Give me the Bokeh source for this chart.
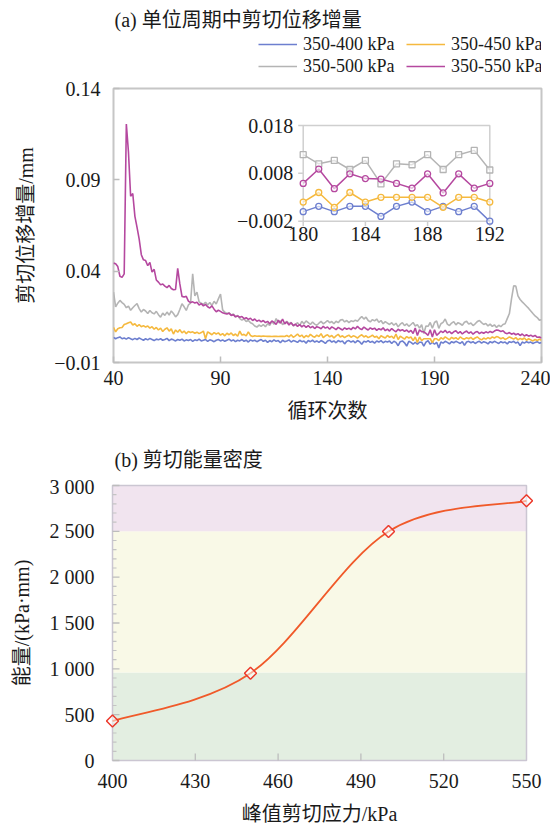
from bokeh.plotting import figure
from bokeh.models import Range1d, Label, Legend, LegendItem, FixedTicker
from bokeh.layouts import column
from bokeh.embed import file_html
from bokeh.resources import INLINE
from bokeh.core.properties import value

# ---------------- data: panel (a) ----------------
cycles = list(range(40, 241))

s400 = [
    0.0038, 0.0030, 0.0036, 0.0040, 0.0030, 0.0034, 0.0028, 0.0036, 0.0030, 0.0025,
    0.0032, 0.0026, 0.0034, 0.0028, 0.0022, 0.0030, 0.0024, 0.0032, 0.0026, 0.0020,
    0.0028, 0.0024, 0.0030, 0.0022, 0.0026, 0.0032, 0.0020, 0.0028, 0.0024, 0.0018,
    0.0026, 0.0022, 0.0028, 0.0018, 0.0024, 0.0020, 0.0026, 0.0016, 0.0024, 0.0020,
    0.0028, 0.0018, 0.0022, 0.0026, 0.0016, 0.0024, 0.0020, 0.0014, 0.0022, 0.0026,
    0.0018, 0.0024, 0.0016, 0.0022, 0.0028, 0.0018, 0.0024, 0.0014, 0.0022, 0.0018,
    0.0026, 0.0016, 0.0022, 0.0012, 0.0024, 0.0018, 0.0022, 0.0014, 0.0020, 0.0026,
    0.0016, 0.0022, 0.0010, 0.0020, 0.0014, 0.0024, 0.0016, 0.0020, 0.0008, 0.0022,
    0.0014, 0.0018, 0.0024, 0.0012, 0.0020, 0.0016, 0.0010, 0.0022, 0.0014, 0.0018,
    0.0006, 0.0020, 0.0014, 0.0022, 0.0012, 0.0018, 0.0010, 0.0020, 0.0014, 0.0004,
    0.0018, 0.0022, 0.0012, 0.0018, 0.0008, 0.0020, 0.0014, 0.0018, 0.0002, 0.0016,
    0.0020, 0.0012, 0.0018, 0.0008, 0.0020, 0.0014, 0.0000, 0.0016, 0.0012, 0.0020,
    0.0010, 0.0016, 0.0006, 0.0018, 0.0012, 0.0020, 0.0008, 0.0016, 0.0012, 0.0018,
    0.0004, 0.0016, 0.0010, -0.0008, 0.0014, 0.0018, 0.0008, -0.0010, 0.0016, 0.0010,
    0.0000, 0.0011, 0.0000, 0.0011, 0.0011, -0.0010, 0.0011, 0.0020, 0.0000, 0.0011,
    0.0000, 0.0011, -0.0020, 0.0012, 0.0006, 0.0016, 0.0010, 0.0002, 0.0014, 0.0008,
    0.0016, 0.0010, 0.0004, 0.0014, -0.0006, 0.0012, 0.0016, 0.0008, 0.0014, 0.0004,
    0.0012, 0.0016, 0.0006, 0.0014, 0.0010, 0.0002, 0.0014, 0.0008, 0.0016, 0.0010,
    0.0004, 0.0014, 0.0008, 0.0012, 0.0002, 0.0014, 0.0010, 0.0016, 0.0006, 0.0012,
    -0.0008, 0.0012, 0.0006, 0.0014, 0.0008, 0.0012, 0.0004, 0.0010, 0.0014, 0.0006,
    0.0010,
]

s450 = [
    0.0093, 0.0068, 0.0085, 0.0090, 0.0092, 0.0108, 0.0112, 0.0118, 0.0122, 0.0105,
    0.0112, 0.0098, 0.0108, 0.0096, 0.0102, 0.0094, 0.0100, 0.0088, 0.0096, 0.0082,
    0.0092, 0.0078, 0.0088, 0.0070, 0.0082, 0.0090, 0.0072, 0.0084, 0.0056, 0.0078,
    0.0066, 0.0080, 0.0062, 0.0072, 0.0058, 0.0070, 0.0064, 0.0068, 0.0060, 0.0066,
    0.0058, 0.0064, 0.0072, 0.0030, 0.0068, 0.0060, 0.0052, 0.0064, 0.0056, 0.0062,
    0.0050, 0.0058, 0.0046, 0.0060, 0.0052, 0.0062, 0.0048, 0.0056, 0.0044, 0.0072,
    0.0050, 0.0054, 0.0046, 0.0068, 0.0048, 0.0042, 0.0046, 0.0044, 0.0045, 0.0043,
    0.0045, 0.0044, 0.0043, 0.0044, 0.0042, 0.0043, 0.0044, 0.0042, 0.0043, 0.0044,
    0.0042, 0.0048, 0.0040, 0.0052, 0.0038, 0.0046, 0.0056, 0.0042, 0.0050, 0.0036,
    0.0048, 0.0040, 0.0054, 0.0044, 0.0038, 0.0050, 0.0042, 0.0058, 0.0036, 0.0046,
    0.0052, 0.0040, 0.0048, 0.0034, 0.0046, 0.0054, 0.0040, 0.0046, 0.0036, 0.0044,
    0.0050, 0.0038, 0.0046, 0.0042, 0.0034, 0.0044, 0.0052, 0.0040, 0.0046, 0.0036,
    0.0042, 0.0050, 0.0038, 0.0044, 0.0030, 0.0046, 0.0040, 0.0034, 0.0048, 0.0038,
    0.0044, 0.0032, 0.0056, 0.0026, 0.0044, 0.0036, 0.0028, 0.0042, 0.0034, 0.0040,
    0.0020, 0.0040, 0.0009, 0.0040, 0.0020, 0.0030, 0.0030, 0.0030, 0.0030, 0.0009,
    0.0030, 0.0030, 0.0020, 0.0036, 0.0028, 0.0040, 0.0032, 0.0024, 0.0038, 0.0030,
    0.0036, 0.0026, 0.0040, 0.0032, 0.0028, 0.0036, 0.0030, 0.0038, 0.0026, 0.0034,
    0.0040, 0.0030, 0.0024, 0.0034, 0.0028, 0.0036, 0.0030, 0.0040, 0.0034, 0.0042,
    0.0038, 0.0030, 0.0036, 0.0026, 0.0032, 0.0040, 0.0034, 0.0028, 0.0036, 0.0024,
    0.0032, 0.0026, 0.0034, 0.0022, 0.0030, 0.0024, 0.0018, 0.0026, 0.0020, 0.0028,
    0.0022,
]

s500 = [
    0.0285, 0.0205, 0.0225, 0.0240, 0.0228, 0.0218, 0.0200, 0.0208, 0.0186, 0.0200,
    0.0212, 0.0222, 0.0195, 0.0176, 0.0190, 0.0182, 0.0168, 0.0185, 0.0172, 0.0166,
    0.0180, 0.0162, 0.0148, 0.0170, 0.0158, 0.0176, 0.0160, 0.0182, 0.0168, 0.0150,
    0.0162, 0.0190, 0.0222, 0.0205, 0.0185, 0.0215, 0.0225, 0.0386, 0.0265, 0.0285,
    0.0232, 0.0225, 0.0218, 0.0230, 0.0215, 0.0228, 0.0212, 0.0235, 0.0220, 0.0248,
    0.0275, 0.0188, 0.0175, 0.0168, 0.0172, 0.0160, 0.0165, 0.0150, 0.0158, 0.0140,
    0.0132, 0.0138, 0.0125, 0.0130, 0.0118, 0.0112, 0.0100, 0.0094, 0.0105, 0.0098,
    0.0108, 0.0096, 0.0112, 0.0104, 0.0125, 0.0110, 0.0140, 0.0118, 0.0128, 0.0108,
    0.0115, 0.0125, 0.0112, 0.0120, 0.0100, 0.0108, 0.0118, 0.0102, 0.0125, 0.0112,
    0.0128, 0.0118, 0.0108, 0.0122, 0.0110, 0.0104, 0.0115, 0.0125, 0.0112, 0.0120,
    0.0130, 0.0118, 0.0124, 0.0112, 0.0126, 0.0118, 0.0132, 0.0136, 0.0122, 0.0130,
    0.0118, 0.0128, 0.0124, 0.0132, 0.0126, 0.0140, 0.0152, 0.0138, 0.0148, 0.0130,
    0.0122, 0.0135, 0.0128, 0.0138, 0.0120, 0.0130, 0.0112, 0.0124, 0.0116, 0.0108,
    0.0118, 0.0104, 0.0115, 0.0095, 0.0110, 0.0118, 0.0102, 0.0112, 0.0098, 0.0108,
    0.0119, 0.0100, 0.0107, 0.0088, 0.0107, 0.0058, 0.0100, 0.0098, 0.0119, 0.0088,
    0.0119, 0.0128, 0.0087, 0.0112, 0.0120, 0.0138, 0.0110, 0.0102, 0.0116, 0.0124,
    0.0106, 0.0118, 0.0112, 0.0104, 0.0120, 0.0126, 0.0110, 0.0116, 0.0102, 0.0112,
    0.0124, 0.0130, 0.0118, 0.0108, 0.0114, 0.0100, 0.0110, 0.0098, 0.0106, 0.0092,
    0.0104, 0.0096, 0.0108, 0.0112, 0.0140, 0.0168, 0.0250, 0.0320, 0.0318, 0.0265,
    0.0245, 0.0232, 0.0220, 0.0208, 0.0196, 0.0182, 0.0168, 0.0155, 0.0146, 0.0132,
    0.0134,
]

s550 = [
    0.0444, 0.0440, 0.0425, 0.0372, 0.0366, 0.0385, 0.1205, 0.1050, 0.0810, 0.0825,
    0.0700, 0.0640, 0.0575, 0.0490, 0.0462, 0.0458, 0.0430, 0.0448, 0.0395, 0.0410,
    0.0352, 0.0340, 0.0325, 0.0330, 0.0318, 0.0310, 0.0322, 0.0305, 0.0298, 0.0300,
    0.0415, 0.0330, 0.0262, 0.0258, 0.0262, 0.0236, 0.0228, 0.0232, 0.0226, 0.0230,
    0.0215, 0.0222, 0.0210, 0.0218, 0.0205, 0.0198, 0.0210, 0.0192, 0.0178, 0.0186,
    0.0180, 0.0172, 0.0168, 0.0165, 0.0170, 0.0158, 0.0162, 0.0150, 0.0155, 0.0148,
    0.0152, 0.0140, 0.0145, 0.0136, 0.0142, 0.0130, 0.0138, 0.0126, 0.0132, 0.0122,
    0.0130, 0.0118, 0.0125, 0.0112, 0.0128, 0.0120, 0.0108, 0.0132, 0.0115, 0.0138,
    0.0112, 0.0122, 0.0105, 0.0118, 0.0102, 0.0110, 0.0098, 0.0108, 0.0095, 0.0104,
    0.0092, 0.0102, 0.0090, 0.0098, 0.0086, 0.0096, 0.0092, 0.0085, 0.0098, 0.0088,
    0.0094, 0.0082, 0.0095, 0.0088, 0.0080, 0.0092, 0.0085, 0.0078, 0.0090, 0.0082,
    0.0088, 0.0080, 0.0092, 0.0084, 0.0098, 0.0086, 0.0080, 0.0094, 0.0085, 0.0078,
    0.0090, 0.0082, 0.0088, 0.0076, 0.0085, 0.0079, 0.0090, 0.0074, 0.0083, 0.0072,
    0.0086, 0.0076, 0.0068, 0.0082, 0.0074, 0.0080, 0.0070, 0.0078, 0.0066, 0.0076,
    0.0059, 0.0089, 0.0048, 0.0079, 0.0069, 0.0068, 0.0059, 0.0049, 0.0079, 0.0039,
    0.0079, 0.0049, 0.0059, 0.0072, 0.0064, 0.0076, 0.0062, 0.0070, 0.0058, 0.0068,
    0.0074, 0.0060, 0.0069, 0.0056, 0.0066, 0.0072, 0.0060, 0.0068, 0.0055, 0.0065,
    0.0070, 0.0058, 0.0066, 0.0060, 0.0068, 0.0062, 0.0070, 0.0064, 0.0072, 0.0078,
    0.0076, 0.0070, 0.0074, 0.0062, 0.0058, 0.0064, 0.0055, 0.0060, 0.0052, 0.0058,
    0.0048, 0.0056, 0.0045, 0.0052, 0.0044, 0.0050, 0.0042, 0.0048, 0.0038, 0.0040,
    0.0034,
]

series_names = ["350-400 kPa", "350-450 kPa", "350-500 kPa", "350-550 kPa"]
series_vals = [s400, s450, s500, s550]
series_colors = ["#6d7fcf", "#f5b93e", "#b4b4b4", "#b5489f"]
inset_markers = ["circle", "circle", "square", "circle"]

x_ticks_a = [40, 90, 140, 190, 240]
y_ticks_a = [-0.01, 0.04, 0.09, 0.14]
y_labels_a = ["\u22120.01", "0.04", "0.09", "0.14"]

inset_x_ticks = [180, 184, 188, 192]
inset_y_ticks = [-0.002, 0.008, 0.018]
inset_y_labels = ["\u22120.002", "0.008", "0.018"]

# ---------------- data: panel (b) ----------------
stress = [400, 450, 500, 550]
energy = [430, 952, 2498, 2833]
band_lo = [0, 960, 2500]
band_hi = [960, 2500, 3000]
band_colors = ["#e3eee1", "#f9f9e7", "#f1e4ef"]
x_ticks_b = [400, 430, 460, 490, 520, 550]
y_ticks_b = [0, 500, 1000, 1500, 2000, 2500, 3000]
y_labels_b = ["0", "500", "1 000", "1 500", "2 000", "2 500", "3 000"]
y_minor_step_b = 100

FONT = "'Liberation Serif', 'Noto Sans CJK SC'"
TXT = "#1a1a1a"
LEFT, RIGHT = 113, 9          # borders shared by header strips and panel (a)
FW, FH = 428, 274             # frame of panel (a)
FRAME_TOP = 88                # page y of the top of panel (a)'s frame


def header(height):
    # header strip whose frame coincides with the frame of panel (a); x in page pixels
    h = figure(frame_width=FW, frame_height=height, x_range=Range1d(LEFT, LEFT + FW), y_range=Range1d(0, height),
               x_axis_type=None, y_axis_type=None, output_backend="svg", toolbar_location=None,
               min_border_left=LEFT, min_border_right=RIGHT, min_border_top=0, min_border_bottom=0)
    h.grid.visible = False
    h.outline_line_color = None
    h.background_fill_color = "white"
    h.border_fill_color = "white"
    return h


# ================= header (a): title + legend =================
HA = 77
ha = header(HA)
ha.add_layout(Label(x=114, y=HA - 19, text="(a) 单位周期中剪切位移增量", text_font=FONT,
                    text_font_size="20px", text_color=TXT, text_baseline="middle"))
nan = float("nan")
leg_r = [ha.line([nan], [nan], line_color=c, line_width=1.6) for c in series_colors]
legend = Legend(items=[LegendItem(label=n, renderers=[r]) for n, r in zip(series_names, leg_r)],
                orientation="horizontal", ncols=2, location=(258 - LEFT, 0),
                spacing=0, padding=0, margin=0, glyph_width=39, glyph_height=22,
                label_width=103, label_height=22, label_standoff=6,
                label_text_font=FONT, label_text_font_size="18px", label_text_color=TXT,
                border_line_color=None, background_fill_alpha=0)
ha.add_layout(legend, "center")

# ================= panel (a) =================
p1 = figure(frame_width=FW, frame_height=FH, x_range=Range1d(40, 240), y_range=Range1d(-0.01, 0.14),
            output_backend="svg", toolbar_location=None,
            min_border_left=LEFT, min_border_right=RIGHT, min_border_top=FRAME_TOP - HA, min_border_bottom=60)
p1.grid.visible = False
p1.background_fill_color = "white"
p1.border_fill_color = "white"
p1.outline_line_color = "#c6c6c6"
p1.outline_line_width = 2

for ax in (p1.xaxis[0], p1.yaxis[0]):
    ax.axis_line_color = None
    ax.major_tick_in = 6
    ax.major_tick_out = 0
    ax.major_tick_line_color = "#bdbdbd"
    ax.major_tick_line_width = 1.5
    ax.minor_tick_line_color = None
    ax.major_label_text_font = FONT
    ax.major_label_text_font_size = "20px"
    ax.major_label_text_color = TXT
    ax.axis_label_text_font = FONT
    ax.axis_label_text_font_size = "20px"
    ax.axis_label_text_font_style = "normal"
    ax.axis_label_text_color = TXT

p1.xaxis[0].ticker = FixedTicker(ticks=x_ticks_a)
p1.xaxis[0].major_label_standoff = 8
p1.xaxis[0].axis_label = "循环次数"
p1.xaxis[0].axis_label_standoff = 12
p1.yaxis[0].ticker = FixedTicker(ticks=y_ticks_a)
p1.yaxis[0].major_label_overrides = {t: l for t, l in zip(y_ticks_a, y_labels_a)}
p1.yaxis[0].major_label_standoff = 13
p1.yaxis[0].axis_label = "剪切位移增量/mm"
p1.yaxis[0].axis_label_standoff = 14

for vals, col in zip(series_vals, series_colors):
    p1.line(cycles, vals, line_color=col, line_width=1.6)

# ---- inset drawn in the same frame through extra ranges ----
IL, IR, IT, IB = 189.7, 376.3, 37.0, 141.3   # inset box in frame pixels (left, right, from top, from bottom)
xpp = (inset_x_ticks[-1] - inset_x_ticks[0]) / (IR - IL)
ypp = (inset_y_ticks[-1] - inset_y_ticks[0]) / (FH - IT - IB)
p1.extra_x_ranges = {"ix": Range1d(inset_x_ticks[0] - IL * xpp, inset_x_ticks[-1] + (FW - IR) * xpp)}
p1.extra_y_ranges = {"iy": Range1d(inset_y_ticks[0] - IB * ypp, inset_y_ticks[-1] + IT * ypp)}
kw = dict(x_range_name="ix", y_range_name="iy")

p1.quad(left=[inset_x_ticks[0]], right=[inset_x_ticks[-1]], bottom=[inset_y_ticks[0]], top=[inset_y_ticks[-1]],
        fill_color="white", line_color="#cfcfcf", line_width=1.5, **kw)
p1.segment(x0=inset_x_ticks, y0=[inset_y_ticks[0]] * 4, x1=inset_x_ticks,
           y1=[inset_y_ticks[0] - 5 * ypp] * 4, line_color="#cfcfcf", line_width=1.5, **kw)
p1.segment(x0=[inset_x_ticks[0]] * 3, y0=inset_y_ticks, x1=[inset_x_ticks[0] - 5 * xpp] * 3,
           y1=inset_y_ticks, line_color="#cfcfcf", line_width=1.5, **kw)

i0 = cycles.index(inset_x_ticks[0])
i1 = cycles.index(inset_x_ticks[-1]) + 1
icyc = cycles[i0:i1]
for vals, col, mk in zip(series_vals, series_colors, inset_markers):
    p1.line(icyc, vals[i0:i1], line_color=col, line_width=1.5, **kw)
    p1.scatter(icyc, vals[i0:i1], marker=mk, size=6, line_color=col, line_width=1.3,
               fill_color="white", fill_alpha=0.6, **kw)

p1.text(x=[inset_x_ticks[0]] * 3, y=inset_y_ticks, text=inset_y_labels, x_offset=-10,
        text_align="right", text_baseline="middle", text_font=value(FONT),
        text_font_size="20px", text_color=TXT, **kw)
p1.text(x=inset_x_ticks, y=[inset_y_ticks[0]] * 4, text=[str(t) for t in inset_x_ticks], y_offset=6,
        text_align="center", text_baseline="top", text_font=value(FONT),
        text_font_size="20px", text_color=TXT, **kw)

# ================= header (b): title =================
HB = 51
hb = header(HB)
hb.add_layout(Label(x=114, y=HB - 35, text="(b) 剪切能量密度", text_font=FONT,
                    text_font_size="20px", text_color=TXT, text_baseline="middle"))

# ================= panel (b) =================
# the frame is a few pixels larger than the data box so the end markers are not cut;
# the visible box, its fill bands and its inner y ticks are drawn in data units.
BOX_L, BOX_W, BOX_H = 112, 414, 275
EXT_X, EXT_Y = 8, 2
xu = (x_ticks_b[-1] - x_ticks_b[0]) / BOX_W
yu = (y_ticks_b[-1] - y_ticks_b[0]) / BOX_H
p2 = figure(frame_width=BOX_W + 2 * EXT_X, frame_height=BOX_H + 2 * EXT_Y,
            x_range=Range1d(x_ticks_b[0] - EXT_X * xu, x_ticks_b[-1] + EXT_X * xu),
            y_range=Range1d(y_ticks_b[0] - EXT_Y * yu, y_ticks_b[-1] + EXT_Y * yu),
            output_backend="svg", toolbar_location=None,
            min_border_left=BOX_L - EXT_X, min_border_right=8,
            min_border_top=10 - EXT_Y, min_border_bottom=56 - EXT_Y)
try:
    p2.frame_align = False
except Exception:
    pass
p2.grid.visible = False
p2.border_fill_color = "white"
p2.background_fill_color = "white"
p2.outline_line_color = None

p2.quad(left=[x_ticks_b[0]] * 3, right=[x_ticks_b[-1]] * 3, bottom=band_lo, top=band_hi,
        fill_color=band_colors, line_color=None)
p2.quad(left=[x_ticks_b[0]], right=[x_ticks_b[-1]], bottom=[y_ticks_b[0]], top=[y_ticks_b[-1]],
        fill_color=None, line_color="#cbc6d2", line_width=1.5)

# inner ticks of the box
minor_b = [v for v in range(y_ticks_b[0], y_ticks_b[-1] + 1, y_minor_step_b) if v not in y_ticks_b]
p2.segment(x0=[x_ticks_b[0]] * len(y_ticks_b), y0=y_ticks_b, x1=[x_ticks_b[0] + 7 * xu] * len(y_ticks_b),
           y1=y_ticks_b, line_color="#bdbdbd", line_width=1.3)
p2.segment(x0=[x_ticks_b[0]] * len(minor_b), y0=minor_b, x1=[x_ticks_b[0] + 4 * xu] * len(minor_b),
           y1=minor_b, line_color="#c4c4c4", line_width=1.2)
p2.segment(x0=x_ticks_b[1:-1], y0=[y_ticks_b[0]] * (len(x_ticks_b) - 2), x1=x_ticks_b[1:-1],
           y1=[y_ticks_b[0] + 7 * yu] * (len(x_ticks_b) - 2), line_color="#bdbdbd", line_width=1.3)

for ax in (p2.xaxis[0], p2.yaxis[0]):
    ax.axis_line_color = None
    ax.major_tick_line_color = None
    ax.minor_tick_line_color = None
    ax.major_label_text_font = FONT
    ax.major_label_text_font_size = "20px"
    ax.major_label_text_color = TXT
    ax.axis_label_text_font = FONT
    ax.axis_label_text_font_size = "20px"
    ax.axis_label_text_font_style = "normal"
    ax.axis_label_text_color = TXT

p2.xaxis[0].ticker = FixedTicker(ticks=x_ticks_b)
p2.xaxis[0].major_label_standoff = 7 - EXT_Y
p2.xaxis[0].axis_label = "峰值剪切应力/kPa"
p2.xaxis[0].axis_label_standoff = 12
p2.yaxis[0].ticker = FixedTicker(ticks=y_ticks_b)
p2.yaxis[0].major_label_overrides = {t: l for t, l in zip(y_ticks_b, y_labels_b)}
p2.yaxis[0].major_label_standoff = 12 - EXT_X
p2.yaxis[0].axis_label = "能量/(kPa·mm)"
p2.yaxis[0].axis_label_standoff = 14

# smoothed line (Catmull-Rom style Bezier segments through the data points)
n = len(stress)
tx = [(stress[min(i + 1, n - 1)] - stress[max(i - 1, 0)]) / 2 for i in range(n)]
ty = [(energy[min(i + 1, n - 1)] - energy[max(i - 1, 0)]) / 2 for i in range(n)]
p2.bezier(x0=stress[:-1], y0=energy[:-1], x1=stress[1:], y1=energy[1:],
          cx0=[stress[i] + tx[i] / 3 for i in range(n - 1)], cy0=[energy[i] + ty[i] / 3 for i in range(n - 1)],
          cx1=[stress[i + 1] - tx[i + 1] / 3 for i in range(n - 1)], cy1=[energy[i + 1] - ty[i + 1] / 3 for i in range(n - 1)],
          line_color="#f05a2a", line_width=1.8)
p2.scatter(stress, energy, marker="square", angle=0.785398, size=8.5, fill_color="white", fill_alpha=0.5,
           line_color="#ec3a2c", line_width=1.5)

layout = column(ha, p1, hb, p2, spacing=0)
open("out.html", "w").write(file_html(layout, INLINE))
